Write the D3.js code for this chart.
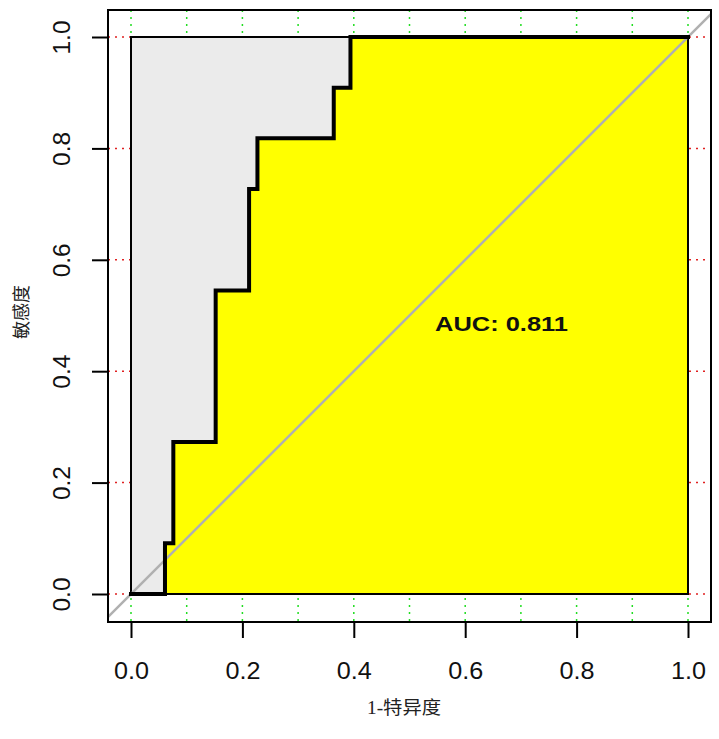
<!DOCTYPE html>
<html>
<head>
<meta charset="utf-8">
<script src="https://cdn.jsdelivr.net/npm/d3@7"></script>
<style>
  body { margin: 0; background: #fff; }
  svg { display: block; }
</style>
</head>
<body>
<svg id="chart"></svg>
<script>
// ROC step points (1-specificity, sensitivity)
const fpr = [0, 0.061, 0.076, 0.152, 0.212, 0.227, 0.364, 0.394, 1.0];
const tpr = [0, 0.091, 0.273, 0.545, 0.727, 0.818, 0.909, 1.0, 1.0];
const aucText = "AUC: 0.811";
const xTicks = [0, 0.2, 0.4, 0.6, 0.8, 1.0];
const yTicks = [0, 0.2, 0.4, 0.6, 0.8, 1.0];
const xGrid = [0, 0.1, 0.2, 0.3, 0.4, 0.5, 0.6, 0.7, 0.8, 0.9, 1.0];
const xTitle = "1-特异度";
const yTitle = "敏感度";

const W = 719, H = 739;
const box = { left: 108, top: 10, right: 711, bottom: 622 };

const svg = d3.select("#chart").attr("width", W).attr("height", H);

const x = d3.scaleLinear().domain([0, 1]).range([131, 688]);
const y = d3.scaleLinear().domain([0, 1]).range([594, 37]);

// clip to plot box
svg.append("clipPath").attr("id", "clip")
  .append("rect")
  .attr("x", box.left).attr("y", box.top)
  .attr("width", box.right - box.left).attr("height", box.bottom - box.top);

const plot = svg.append("g").attr("clip-path", "url(#clip)");

// grid lines
plot.selectAll(".vgrid").data(xGrid).enter().append("line")
  .attr("x1", d => x(d)).attr("x2", d => x(d))
  .attr("y1", box.top).attr("y2", box.bottom)
  .attr("stroke", "#22dd22").attr("stroke-width", 1.5)
  .attr("stroke-dasharray", "2,5");

plot.selectAll(".hgrid").data(yTicks).enter().append("line")
  .attr("y1", d => y(d)).attr("y2", d => y(d))
  .attr("x1", box.left).attr("x2", box.right)
  .attr("stroke", "#e02020").attr("stroke-width", 1.5)
  .attr("stroke-dasharray", "2,5");

// grey full square
plot.append("rect")
  .attr("x", x(0)).attr("y", y(1))
  .attr("width", x(1) - x(0)).attr("height", y(0) - y(1))
  .attr("fill", "#ebebeb").attr("stroke", "#000").attr("stroke-width", 2);

// yellow area under curve
const pts = fpr.map((d, i) => [d, tpr[i]]);
const area = d3.area()
  .x(d => x(d[0])).y0(y(0)).y1(d => y(d[1]))
  .curve(d3.curveStepAfter);
plot.append("path").datum(pts)
  .attr("d", area)
  .attr("fill", "#ffff00").attr("stroke", "#000").attr("stroke-width", 2);

// diagonal
plot.append("line")
  .attr("x1", x(-0.1)).attr("y1", y(-0.1))
  .attr("x2", x(1.1)).attr("y2", y(1.1))
  .attr("stroke", "#b0b0b0").attr("stroke-width", 2.5);

// ROC curve
const line = d3.line().x(d => x(d[0])).y(d => y(d[1])).curve(d3.curveStepAfter);
plot.append("path").datum(pts)
  .attr("d", line)
  .attr("fill", "none").attr("stroke", "#000").attr("stroke-width", 4)
  .attr("stroke-linejoin", "miter").attr("stroke-linecap", "square");

// box
svg.append("rect")
  .attr("x", box.left).attr("y", box.top)
  .attr("width", box.right - box.left).attr("height", box.bottom - box.top)
  .attr("fill", "none").attr("stroke", "#000").attr("stroke-width", 2);

// axes
const xAxis = svg.append("g").attr("transform", `translate(0,${box.bottom})`)
  .call(d3.axisBottom(x).tickValues(xTicks).tickFormat(d3.format(".1f")).tickSize(16));
xAxis.select(".domain").remove();
xAxis.selectAll("line").attr("stroke-width", 2);
xAxis.selectAll("text").attr("font-family", "Liberation Sans, Arial, sans-serif")
  .attr("font-size", 23).attr("fill", "#111").attr("dy", "0.71em").attr("y", 41)
  .attr("textLength", 35).attr("lengthAdjust", "spacingAndGlyphs");

const yAxis = svg.append("g").attr("transform", `translate(${box.left},0)`)
  .call(d3.axisLeft(y).tickValues(yTicks).tickFormat(d3.format(".1f")).tickSize(16));
yAxis.select(".domain").remove();
yAxis.selectAll("line").attr("stroke-width", 2);
yAxis.selectAll("text")
  .attr("font-family", "Liberation Sans, Arial, sans-serif")
  .attr("font-size", 23).attr("fill", "#111")
  .attr("x", -17).attr("dy", null)
  .attr("text-anchor", "middle")
  .attr("textLength", 34).attr("lengthAdjust", "spacingAndGlyphs")
  .attr("transform", "translate(-38,0) rotate(-90)")
  .attr("x", 0);

// AUC label
svg.append("text")
  .attr("x", 435).attr("y", 331)
  .attr("font-family", "Liberation Sans, Arial, sans-serif")
  .attr("font-weight", "bold").attr("font-size", 21)
  .attr("fill", "#111")
  .attr("textLength", 133).attr("lengthAdjust", "spacingAndGlyphs")
  .text(aucText);

// titles
svg.append("text")
  .attr("x", 404).attr("y", 714)
  .attr("text-anchor", "middle")
  .attr("font-family", "Liberation Serif, Noto Sans CJK SC, serif")
  .attr("font-size", 18).attr("fill", "#222")
  .attr("textLength", 74).attr("lengthAdjust", "spacingAndGlyphs")
  .text(xTitle);

svg.append("text")
  .attr("transform", `translate(28,312) rotate(-90)`)
  .attr("text-anchor", "middle")
  .attr("font-family", "Liberation Serif, Noto Sans CJK SC, serif")
  .attr("font-size", 18).attr("fill", "#222")
  .text(yTitle);
</script>
</body>
</html>
